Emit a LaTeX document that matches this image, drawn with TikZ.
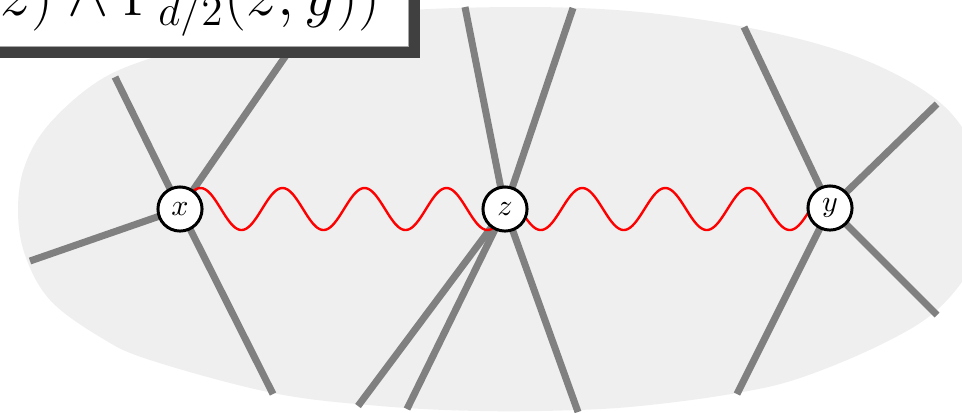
\documentclass[tikz,border=0pt]{standalone}
\usepackage{amssymb}
\usetikzlibrary{calc}
\definecolor{blobgray}{HTML}{EFEFEF}
\definecolor{edgegray}{HTML}{808080}
\definecolor{shadowgray}{HTML}{404040}
\pgfdeclarelayer{blob}
\pgfdeclarelayer{edges}
\pgfsetlayers{blob,edges,main}
\begin{document}
\begin{tikzpicture}[x=0.011716cm, y=-0.011716cm,
  edge/.style={draw=edgegray, line width=2.33pt, line cap=butt},
  vtx/.style={circle, draw=black, fill=white, line width=1pt, minimum size=14.7pt, inner sep=0pt},
  wave/.style={draw=red, line width=0.8pt}]
\useasboundingbox (0,0) rectangle (962,412);
\clip (0,0) rectangle (962,412);
% vertices
\node[vtx] (x) at (180,209) {$x$};
\node[vtx] (z) at (505,209) {$z$};
\node[vtx] (y) at (830,208) {$y$};
% blob
\begin{pgfonlayer}{blob}
\fill[blobgray] plot[smooth cycle, tension=0.6] coordinates {
  (520,7) (640,12) (760,30) (860,58) (937,100) (975,150) (988,205)
  (975,260) (937,310) (880,345) (800,378) (737,393) (650,405) (578,410)
  (480,411) (380,406) (273,393) (150,360) (100,337) (50,300) (25,255)
  (18,210) (25,165) (50,123) (100,80) (160,55) (250,28) (380,12)};
\end{pgfonlayer}
% edges
\begin{pgfonlayer}{edges}
\coordinate (xa) at (115,77);
\coordinate (xb) at (298,38);
\coordinate (xc) at (30,261);
\coordinate (xd) at (273,394);
\coordinate (za) at (465,7);
\coordinate (zb) at (573,8);
\coordinate (zc) at (358,406);
\coordinate (zd) at (407,409);
\coordinate (ze) at (578,412);
\coordinate (ya) at (744,27);
\coordinate (yb) at (937,104);
\coordinate (yc) at (937,315);
\coordinate (yd) at (737,394);
\foreach \e in {xa,xb,xc,xd} \draw[edge] (x.center) -- (\e);
\foreach \e in {za,zb,zc,zd,ze} \draw[edge] (z.center) -- (\e);
\foreach \e in {ya,yb,yc,yd} \draw[edge] (y.center) -- (\e);
\begin{scope}[shift={(x.center)}]
\draw[wave] plot[domain=0:325, samples=200, variable=\t] (\t, {-21*sin(\t*4.390244)});
\end{scope}
\begin{scope}[shift={(z.center)}]
\draw[wave] plot[domain=0:325, samples=200, variable=\t] (\t, {21*sin((\t-15)*4.337349)});
\end{scope}
\end{pgfonlayer}
% label box
\fill[shadowgray] (-80,-80) rectangle (420,58);
\draw[fill=white, draw=gray!70, line width=0.3pt] (-90,-90) rectangle (408,46);
\node[anchor=base east, inner sep=0pt, font=\huge] (label) at (381,15)
  {$\mathbb{P}(\Gamma_{d/2}(x,z)\wedge\Gamma_{d/2}(z,y))$};
\end{tikzpicture}
\end{document}
